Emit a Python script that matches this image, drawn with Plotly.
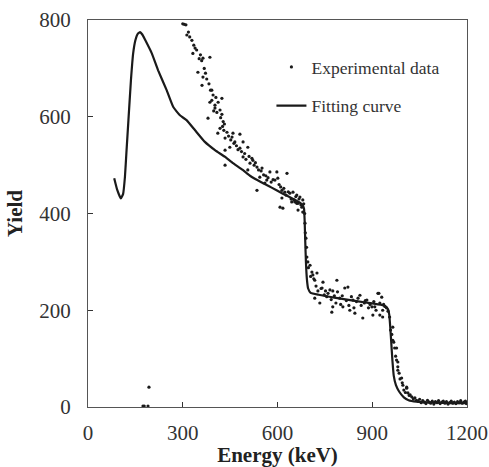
import plotly.graph_objects as go

# Experimental data (energy keV, yield)
exp_energy = [
    174, 178, 190, 193,
    300, 305, 310, 313, 318, 322, 329, 332, 335, 339, 344, 348, 352, 356, 360, 364,
    364, 361, 368, 372, 376, 380, 383, 386, 386, 388, 392, 392, 396, 398, 402, 402,
    405, 408, 412, 418, 418, 420, 424, 424, 428, 432,
    411, 426, 430, 434, 434, 434, 440, 445, 449, 452, 456, 459, 462, 465, 470, 475,
    481, 481, 486, 491, 491, 496, 500, 506, 506, 510, 513, 519, 522, 526, 530, 535,
    535, 540, 544, 548, 551, 556, 560, 563, 566, 570, 576, 580, 586, 592, 598, 601,
    605, 608, 610, 614, 614, 617, 620, 623, 627, 630, 634, 639, 643, 645, 649, 652,
    655, 658, 661, 661, 665, 665, 668, 671, 674, 677, 680, 680, 683,
    686, 687, 688, 690, 692, 693, 696, 698, 703, 705, 709, 712, 715, 718, 718, 722,
    725, 728, 734, 738, 741, 744, 748, 752, 756, 760, 766, 770, 772, 775, 775, 780,
    785, 788, 790, 797, 800, 805, 807, 813, 818, 823, 826, 829, 834, 839, 842, 845,
    850, 855, 861, 865, 870, 875, 878, 883, 888, 893, 899, 902, 905, 908, 912, 918,
    921, 924, 924, 930, 933, 933, 936, 940, 945, 950,
    955, 958, 962, 965, 965, 968, 971, 974, 977, 977, 981, 981, 981, 985, 988, 993,
    995, 997, 1000, 1005, 1009, 1009, 1013, 1017, 1020, 1025, 1030, 1035, 1040,
    1045, 1050, 1055, 1060, 1065, 1070, 1075, 1080, 1085, 1090, 1095, 1100, 1105,
    1110, 1115, 1120, 1125, 1130, 1135, 1140, 1145, 1150, 1155, 1160, 1165, 1170,
    1175, 1180, 1185, 1190, 1195, 1198,
]
exp_yield = [
    2, 2, 2, 41,
    792, 791, 790, 769, 775, 765, 758, 731, 748, 742, 738, 692, 720, 728, 716, 721,
    682, 665, 700, 690, 678, 597, 668, 723, 630, 655, 655, 634, 645, 612, 624, 618,
    640, 609, 630, 614, 576, 598, 638, 605, 590, 585,
    566, 580, 572, 556, 531, 500, 568, 560, 537, 552, 558, 566, 545, 548, 540, 532,
    564, 535, 528, 548, 517, 524, 512, 537, 490, 518, 504, 514, 510, 500, 505, 496,
    448, 490, 475, 488, 494, 480, 463, 478, 469, 474, 486, 465, 470, 469, 486, 473,
    460, 413, 455, 448, 432, 411, 452, 444, 438, 483, 445, 442, 430, 424, 444, 428,
    424, 435, 438, 421, 421, 407, 430, 434, 418, 413, 428, 403, 420,
    400, 380, 360, 349, 330, 310, 300, 288, 293, 270, 279, 273, 265, 262, 225, 250,
    277, 240, 215, 245, 246, 258, 232, 240, 228, 235, 242, 222, 196, 240, 207, 230,
    215, 262, 238, 225, 212, 230, 207, 246, 220, 248, 210, 200, 228, 221, 205, 194,
    218, 225, 231, 210, 184, 215, 220, 221, 205, 212, 207, 190, 218, 207, 200, 235,
    235, 190, 215, 227, 186, 200, 212, 208, 205, 198,
    186, 159, 150, 165, 138, 134, 122, 105, 122, 97, 93, 83, 76, 70, 58, 60,
    50, 45, 35, 30, 41, 39, 29, 24, 25, 21, 17, 19, 14,
    12, 16, 9, 13, 10, 7, 14, 10, 8, 12, 6, 11, 9,
    13, 7, 10, 12, 8, 11, 6, 9, 12, 8, 10, 7, 11,
    9, 13, 8, 10, 12, 7,
]

# Fitting curve (energy keV, yield)
fit_energy = [
    83, 92, 104, 111, 117, 122, 128, 136, 143, 150, 157, 165, 172, 180, 202, 222,
    249, 270, 291, 312, 339, 370, 402, 434, 459, 490, 513, 550, 580, 617, 650, 672,
    680, 684, 686, 688, 690, 693, 697, 705, 730, 780, 830, 880, 930, 942, 950, 954,
    957, 960, 964, 968, 975, 985, 1000, 1015, 1040, 1100, 1150, 1200,
]
fit_yield = [
    473, 450, 431, 440, 476, 530, 593, 676, 731, 758, 771, 775, 770, 760, 731, 696,
    655, 620, 603, 593, 572, 548, 531, 517, 504, 490, 478, 464, 454, 441, 430, 422,
    417, 410, 385, 340, 300, 265, 245, 236, 232, 226, 221, 216, 211, 208, 202, 190,
    165, 135, 95, 65, 45, 32, 20, 14, 11, 9, 8, 8,
]

x_ticks = [0, 300, 600, 900, 1200]
y_ticks = [0, 200, 400, 600, 800]

FONT = "Liberation Serif"

fig = go.Figure()
fig.add_trace(go.Scatter(
    x=exp_energy, y=exp_yield, mode="markers", name="Experimental data",
    marker=dict(size=3.2, color="#1a1a1a"), cliponaxis=False, legendgroup="a",
))
fig.add_trace(go.Scatter(
    x=fit_energy, y=fit_yield, mode="lines", name="Fitting curve",
    line=dict(color="#1a1a1a", width=2.2, shape="spline", smoothing=0.35),
    legendgroup="b",
))

axis_common = dict(
    showgrid=False, zeroline=False, showline=True, linecolor="#555", linewidth=1.3,
    mirror=True, ticks="inside", ticklen=5, tickwidth=1.3, tickcolor="#333",
    automargin=False, tickfont=dict(family=FONT, size=21, color="#333"),
)

fig.update_layout(
    template="none",
    width=489, height=467,
    margin=dict(l=88, r=22, t=20, b=60),
    paper_bgcolor="white", plot_bgcolor="white",
    font=dict(family=FONT, color="#222"),
    showlegend=True,
    legend=dict(
        x=0.484, y=0.925, xanchor="left", yanchor="top",
        font=dict(family=FONT, size=17.5, color="#333"),
        bgcolor="rgba(0,0,0,0)", tracegroupgap=13,
    ),
    xaxis=dict(
        range=[0, 1200], tickvals=x_ticks, ticktext=[str(v) for v in x_ticks],
        ticklabelstandoff=7,
        title=dict(text="<b>Energy (keV)</b>", font=dict(family=FONT, size=21, color="#222"), standoff=20),
        **axis_common,
    ),
    yaxis=dict(
        range=[0, 800], tickvals=y_ticks, ticktext=[str(v) for v in y_ticks],
        ticklabelstandoff=12,
        title=dict(text="<b>Yield</b>", font=dict(family=FONT, size=21, color="#222"), standoff=10),
        **axis_common,
    ),
)

fig.write_html(
    "out.html",
    config={"displayModeBar": False},
    post_script="document.body.style.margin='0';document.body.style.overflow='hidden';",
)
